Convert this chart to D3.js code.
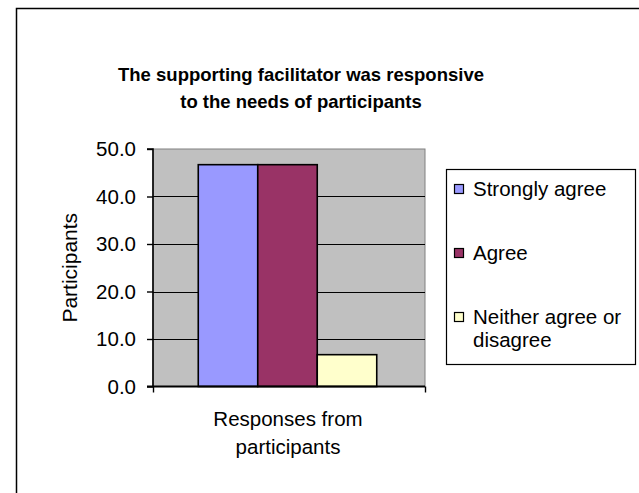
<!DOCTYPE html>
<html>
<head>
<meta charset="utf-8">
<script src="https://cdn.jsdelivr.net/npm/d3@7"></script>
<style>
  html, body { margin: 0; padding: 0; background: #fff; overflow: hidden; }
  svg { display: block; }
  text { font-family: "Liberation Sans", Arial, sans-serif; fill: #000; }
</style>
</head>
<body>
<svg id="chart" width="639" height="493"></svg>
<script>
// data
const categories = ['Responses from participants'];
const seriesNames = ['Strongly agree', 'Agree', 'Neither agree or disagree'];
const seriesValues = [46.7, 46.7, 6.7];
const seriesColours = ['#9999FF', '#993366', '#FFFFCC'];
const yTicks = [0, 10, 20, 30, 40, 50];

const svg = d3.select('#chart');
const width = +svg.attr('width');
const height = +svg.attr('height');

// outer chart border: only its left and top edges fall inside the picture
svg.append('path')
  .attr('d', `M16.5,${height}V8.5H${width}`)
  .attr('fill', 'none')
  .attr('stroke', '#000')
  .attr('stroke-width', 1.5);

// title
const title = svg.append('text')
  .attr('text-anchor', 'middle')
  .attr('font-weight', 'bold')
  .attr('font-size', 18.5);
title.append('tspan').attr('x', 301).attr('y', 81).text('The supporting facilitator was responsive');
title.append('tspan').attr('x', 301).attr('y', 108).text('to the needs of participants');

const plot = { left: 153, top: 149, right: 425, bottom: 386.5 };
const innerWidth = plot.right - plot.left;
const innerHeight = plot.bottom - plot.top;

const g = svg.append('g')
  .attr('transform', `translate(${plot.left},${plot.top})`);

const yScale = d3.scaleLinear()
  .domain([0, 50])
  .range([innerHeight, 0]);

const xScale = d3.scaleBand()
  .domain(categories)
  .range([0, innerWidth])
  .paddingOuter(0.262);

const xInner = d3.scaleBand()
  .domain(seriesNames)
  .range([0, xScale.bandwidth()]);

const colourScale = d3.scaleOrdinal()
  .domain(seriesNames)
  .range(seriesColours);

// grey plot area
g.append('rect')
  .attr('width', innerWidth)
  .attr('height', innerHeight)
  .attr('fill', '#C0C0C0')
  .attr('stroke', '#808080')
  .attr('stroke-width', 1);

// gridlines
g.append('g')
  .selectAll('line')
  .data(yTicks.filter(d => d > 0 && d < 50))
  .enter().append('line')
  .attr('x1', 0).attr('x2', innerWidth)
  .attr('y1', d => Math.round(yScale(d)) + 0.5)
  .attr('y2', d => Math.round(yScale(d)) + 0.5)
  .attr('stroke', '#000')
  .attr('stroke-width', 1.2);

// bars
const rows = seriesNames.map((name, i) => ({ name, value: seriesValues[i] }));

g.append('g')
  .attr('transform', `translate(${xScale(categories[0]) - 1.5},0)`)
  .selectAll('rect')
  .data(rows)
  .enter().append('rect')
  .attr('x', d => xInner(d.name))
  .attr('y', d => yScale(d.value))
  .attr('width', xInner.bandwidth())
  .attr('height', d => innerHeight - yScale(d.value))
  .attr('fill', d => colourScale(d.name))
  .attr('stroke', '#000')
  .attr('stroke-width', 1.6);

// y axis
const yAxis = d3.axisLeft(yScale)
  .tickValues(yTicks)
  .tickFormat(d3.format('.1f'))
  .tickSize(6)
  .tickPadding(11);

const yAxisG = g.append('g').call(yAxis);
yAxisG.select('.domain').attr('stroke-width', 1.6).attr('d', `M-6,0H0V${innerHeight}`);
yAxisG.selectAll('.tick line').attr('stroke-width', 1.4);
yAxisG.selectAll('.tick text')
  .attr('font-size', 20.5)
  .attr('font-family', '"Liberation Sans", Arial, sans-serif');

// x axis line with end ticks
const xAxis = d3.axisBottom(d3.scaleLinear().domain([0, 1]).range([0, innerWidth]))
  .tickValues([0, 1])
  .tickFormat('')
  .tickSize(6)
  .tickSizeOuter(0);

const xAxisG = g.append('g')
  .attr('transform', `translate(0,${innerHeight})`)
  .call(xAxis);
xAxisG.select('.domain').attr('stroke-width', 2).attr('d', `M-6,0H${innerWidth}`);
xAxisG.selectAll('.tick line').attr('stroke-width', 1.4);

// axis labels
svg.append('text')
  .attr('transform', `translate(77,${plot.top + innerHeight / 2}) rotate(-90)`)
  .attr('text-anchor', 'middle')
  .attr('font-size', 21)
  .text('Participants');

const xLabel = svg.append('text')
  .attr('text-anchor', 'middle')
  .attr('font-size', 20.5);
xLabel.append('tspan').attr('x', plot.left + innerWidth / 2 - 1).attr('y', 426).text('Responses from');
xLabel.append('tspan').attr('x', plot.left + innerWidth / 2 - 1).attr('y', 454).text('participants');

// legend
const legend = svg.append('g').attr('transform', 'translate(446,169)');
legend.append('rect')
  .attr('x', 0.5).attr('y', 0.5)
  .attr('width', 189).attr('height', 195)
  .attr('fill', '#fff')
  .attr('stroke', '#000')
  .attr('stroke-width', 1.2);

const legendLines = [['Strongly agree'], ['Agree'], ['Neither agree or', 'disagree']];
const item = legend.selectAll('.item')
  .data(seriesNames)
  .enter().append('g')
  .attr('class', 'item')
  .attr('transform', (d, i) => `translate(8,${20 + i * 64})`);

item.append('rect')
  .attr('x', 0.5).attr('y', -4.5)
  .attr('width', 9).attr('height', 9)
  .attr('fill', d => colourScale(d))
  .attr('stroke', '#000')
  .attr('stroke-width', 1.2);

item.append('text')
  .attr('font-size', 20.5)
  .each(function (d, i) {
    d3.select(this).selectAll('tspan')
      .data(legendLines[i])
      .enter().append('tspan')
      .attr('x', 19)
      .attr('y', (t, j) => 7 + j * 23)
      .text(t => t);
  });
</script>
</body>
</html>
